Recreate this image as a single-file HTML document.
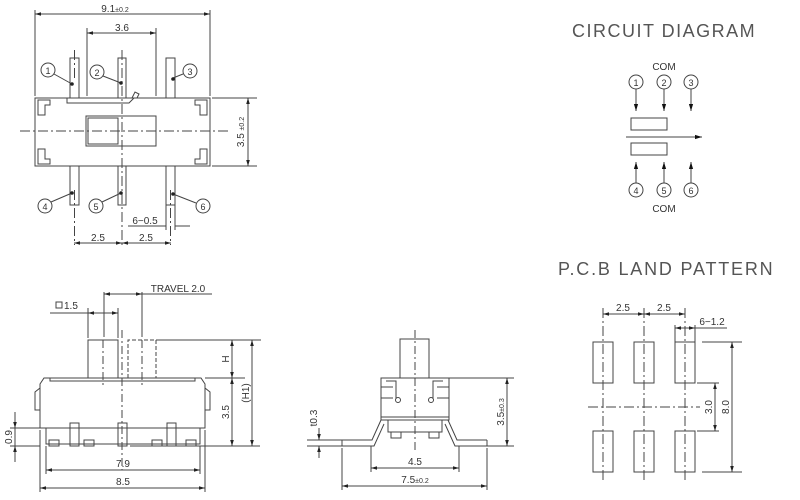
<!DOCTYPE html>
<html><head><style>body{margin:0;background:#fff}svg{display:block}text{font-family:"Liberation Sans",sans-serif;fill:#333}</style></head><body>
<svg width="800" height="500" viewBox="0 0 800 500" xmlns="http://www.w3.org/2000/svg">
<defs><marker id="a" viewBox="0 0 10 10" refX="10" refY="5" markerWidth="6" markerHeight="6" orient="auto-start-reverse"><path d="M0,2L10,5L0,8z" fill="#222"/></marker>
<marker id="b" viewBox="0 0 10 10" refX="10" refY="5" markerWidth="7" markerHeight="7" orient="auto"><path d="M0,2L10,5L0,8z" fill="#111"/></marker></defs>
<g stroke="#444" stroke-width="1" fill="none">
<rect x="35" y="98" width="175" height="68"/>
<path d="M38,100h12v5h-5v10h-7z M207,100h-12v5h5v10h7z M38,164h12v-5h-5v-10h-7z M207,164h-12v-5h5v-10h7z"/>
<path d="M67,98v5h62l5,-5 M132,98l3,-6 4,2-2,4"/>
<rect x="86" y="116" width="70" height="30"/><rect x="88" y="118" width="30" height="26"/>
<rect x="70" y="58" width="9" height="40"/><rect x="118" y="58" width="8" height="40"/><rect x="166" y="58" width="9" height="40"/>
<rect x="70" y="166" width="9" height="39"/><rect x="118" y="166" width="8" height="39"/><rect x="166" y="166" width="9" height="39"/>
<path d="M20,131H228 M122,50V248 M74.5,50v30 M74.5,190v55 M170.5,190v55" stroke-dasharray="10,3,2,3"/>
<path d="M35,96V10 M210,96V10 M87,96V28 M156,96V28 M212,98h45 M212,166h45 M166,205v25 M175,205v25"/>
<line x1="35" y1="14" x2="210" y2="14" marker-start="url(#a)" marker-end="url(#a)"/>
<line x1="87" y1="33" x2="156" y2="33" marker-start="url(#a)" marker-end="url(#a)"/>
<line x1="248" y1="98" x2="248" y2="166" marker-start="url(#a)" marker-end="url(#a)"/>
<line x1="74" y1="243" x2="122" y2="243" marker-start="url(#a)" marker-end="url(#a)"/>
<line x1="122" y1="243" x2="171" y2="243" marker-start="url(#a)" marker-end="url(#a)"/>
<path d="M128,226h38 M175,226h15"/>
<circle cx="48" cy="70" r="7"/><circle cx="97" cy="72" r="7"/><circle cx="190" cy="71" r="7"/>
<circle cx="45" cy="206" r="7"/><circle cx="96" cy="206" r="7"/><circle cx="203" cy="206" r="7"/>
<path d="M54,74L72,84 M103,76L121,83 M183,74L173,78 M51,202L72,193 M102,202L121,193 M196,203L173,194"/>
</g>
<g fill="#222"><circle cx="72" cy="84" r="1.8"/><circle cx="121" cy="83" r="1.8"/><circle cx="173" cy="79" r="1.8"/><circle cx="72" cy="193" r="1.8"/><circle cx="121" cy="193" r="1.8"/><circle cx="173" cy="194" r="1.8"/></g>
<g font-size="10" text-anchor="middle">
<text x="115" y="12">9.1<tspan font-size="7">±0.2</tspan></text><text x="122" y="31">3.6</text>
<text x="98" y="241">2.5</text><text x="146" y="241">2.5</text><text x="145" y="224">6−0.5</text>
<text x="48" y="74" font-size="9">1</text><text x="97" y="76" font-size="9">2</text><text x="190" y="75" font-size="9">3</text>
<text x="45" y="210" font-size="9">4</text><text x="96" y="210" font-size="9">5</text><text x="203" y="210" font-size="9">6</text>
<text transform="translate(244,132) rotate(-90)">3.5 <tspan font-size="7">±0.2</tspan></text>
</g>
<g stroke="#444" stroke-width="1" fill="none">
<path d="M44,378H201l4,6V428H40V384z M50,378v3h145v-3 M40,388l-5,4v18h5 M205,388l5,4v18h-5"/>
<path d="M46,428v16h154v-16"/>
<rect x="70" y="423" width="9" height="23"/><rect x="118" y="423" width="9" height="23"/><rect x="167" y="423" width="9" height="23"/>
<rect x="49" y="440" width="10" height="6"/><rect x="84" y="440" width="10" height="6"/><rect x="152" y="440" width="10" height="6"/><rect x="186" y="440" width="10" height="6"/>
<path d="M88,378V340h30v38"/><path d="M128,378V340h28v38" stroke-dasharray="4,2"/>
<path d="M122,330V470 M103,340v46 M142,340v46" stroke-dasharray="8,3,2,3"/>
<path d="M104,292v45 M142,292v45 M142,294h70 M88,308v30 M118,308v30 M156,340h105 M205,378h40 M130,446h130 M40,446h-30 M40,428h-30 M46,446v28 M200,446v28 M40,430v62 M205,430v62"/>
<line x1="104" y1="294" x2="142" y2="294" marker-start="url(#a)" marker-end="url(#a)"/>
<line x1="88" y1="313" x2="118" y2="313" marker-start="url(#a)" marker-end="url(#a)"/>
<path d="M50,313h38"/>
<line x1="232" y1="340" x2="232" y2="378" marker-start="url(#a)" marker-end="url(#a)"/>
<line x1="232" y1="378" x2="232" y2="446" marker-start="url(#a)" marker-end="url(#a)"/>
<line x1="252" y1="340" x2="252" y2="446" marker-start="url(#a)" marker-end="url(#a)"/>
<line x1="15" y1="412" x2="15" y2="428" marker-end="url(#a)"/><line x1="15" y1="462" x2="15" y2="446" marker-end="url(#a)"/><path d="M15,428v18"/>
<line x1="46" y1="470" x2="200" y2="470" marker-start="url(#a)" marker-end="url(#a)"/>
<line x1="40" y1="488" x2="205" y2="488" marker-start="url(#a)" marker-end="url(#a)"/>
<rect x="56" y="302" width="6" height="6"/>
</g>
<g font-size="10" text-anchor="middle">
<text x="178" y="292">TRAVEL 2.0</text><text x="64" y="309" text-anchor="start">1.5</text>
<text x="123" y="467">7.9</text><text x="123" y="485">8.5</text>
<text transform="translate(229,359) rotate(-90)">H</text>
<text transform="translate(229,412) rotate(-90)">3.5</text>
<text transform="translate(249,393) rotate(-90)">(H1)</text>
<text transform="translate(12,437) rotate(-90)">0.9</text>
</g>
<g stroke="#444" stroke-width="1" fill="none">
<rect x="400" y="339" width="29" height="39"/>
<rect x="381" y="378" width="68" height="42"/><path d="M381,417h68"/>
<path d="M386,381h10v18 M443,381h-10v18 M381,387h12 M449,387h-12 M381,398h12 M449,398h-12"/>
<circle cx="398" cy="400" r="2.5"/><circle cx="431" cy="400" r="2.5"/>
<path d="M388,420v12h54v-12"/><rect x="391" y="432" width="10" height="6"/><rect x="429" y="432" width="10" height="6"/>
<path d="M342,440h30l9,-20 M342,446h32l10,-22 M342,440v6 M487,440h-30l-9,-20 M487,446h-32l-10,-22 M487,440v6"/>
<path d="M415,330V450" stroke-dasharray="8,3,2,3"/>
<path d="M449,378h65 M487,446h27 M371,446v26 M459,446v26 M342,448v42 M487,448v42 M342,440h-35 M342,446h-35"/>
<line x1="507" y1="378" x2="507" y2="446" marker-start="url(#a)" marker-end="url(#a)"/>
<line x1="371" y1="468" x2="459" y2="468" marker-start="url(#a)" marker-end="url(#a)"/>
<line x1="342" y1="486" x2="487" y2="486" marker-start="url(#a)" marker-end="url(#a)"/>
<line x1="319" y1="428" x2="319" y2="440" marker-end="url(#a)"/><line x1="319" y1="458" x2="319" y2="446" marker-end="url(#a)"/>
</g>
<g font-size="10" text-anchor="middle">
<text x="415" y="465">4.5</text><text x="415" y="483">7.5<tspan font-size="7">±0.2</tspan></text>
<text transform="translate(317,418) rotate(-90)">t0.3</text>
<text transform="translate(504,412) rotate(-90)">3.5<tspan font-size="7">±0.3</tspan></text>
</g>
<text x="572" y="37" font-size="18" letter-spacing="1.5" style="fill:#555">CIRCUIT DIAGRAM</text>
<g stroke="#444" stroke-width="1" fill="none">
<circle cx="636" cy="82" r="7"/><circle cx="664" cy="82" r="7"/><circle cx="691" cy="82" r="7"/>
<circle cx="636" cy="190" r="7"/><circle cx="664" cy="190" r="7"/><circle cx="691" cy="190" r="7"/>
<line x1="636" y1="89" x2="636" y2="111" marker-end="url(#b)"/><line x1="664" y1="89" x2="664" y2="111" marker-end="url(#b)"/><line x1="691" y1="89" x2="691" y2="111" marker-end="url(#b)"/>
<line x1="636" y1="183" x2="636" y2="162" marker-end="url(#b)"/><line x1="664" y1="183" x2="664" y2="162" marker-end="url(#b)"/><line x1="691" y1="183" x2="691" y2="162" marker-end="url(#b)"/>
<rect x="631" y="118" width="36" height="12"/><rect x="631" y="143" width="36" height="12"/>
<line x1="626" y1="137" x2="702" y2="137" marker-end="url(#b)"/>
</g>
<g font-size="10" text-anchor="middle">
<text x="664" y="70">COM</text><text x="664" y="212">COM</text>
<text x="636" y="86" font-size="9">1</text><text x="664" y="86" font-size="9">2</text><text x="691" y="86" font-size="9">3</text>
<text x="636" y="194" font-size="9">4</text><text x="664" y="194" font-size="9">5</text><text x="691" y="194" font-size="9">6</text>
</g>
<text x="558" y="275" font-size="18" letter-spacing="1.8" style="fill:#555">P.C.B LAND PATTERN</text>
<g stroke="#444" stroke-width="1" fill="none">
<rect x="593" y="342" width="20" height="41"/><rect x="634" y="342" width="20" height="41"/><rect x="675" y="342" width="20" height="41"/>
<rect x="593" y="431" width="20" height="41"/><rect x="634" y="431" width="20" height="41"/><rect x="675" y="431" width="20" height="41"/>
<path d="M603,308V480 M644,308V480 M685,308V480 M588,407H700" stroke-dasharray="10,3,2,3"/>
<path d="M675,325v17 M695,325v17 M675,342h20 M702,342h40 M702,472h40 M697,383h22 M697,431h22 M695,328h32"/>
<line x1="603" y1="314" x2="644" y2="314" marker-start="url(#a)" marker-end="url(#a)"/>
<line x1="644" y1="314" x2="685" y2="314" marker-start="url(#a)" marker-end="url(#a)"/>
<line x1="675" y1="328" x2="695" y2="328" marker-start="url(#a)" marker-end="url(#a)"/>
<line x1="715" y1="383" x2="715" y2="431" marker-start="url(#a)" marker-end="url(#a)"/>
<line x1="732" y1="342" x2="732" y2="472" marker-start="url(#a)" marker-end="url(#a)"/>
</g>
<g font-size="10" text-anchor="middle">
<text x="623" y="311">2.5</text><text x="664" y="311">2.5</text><text x="712" y="325">6−1.2</text>
<text transform="translate(712,407) rotate(-90)">3.0</text>
<text transform="translate(729,407) rotate(-90)">8.0</text>
</g>
</svg>
</body></html>
